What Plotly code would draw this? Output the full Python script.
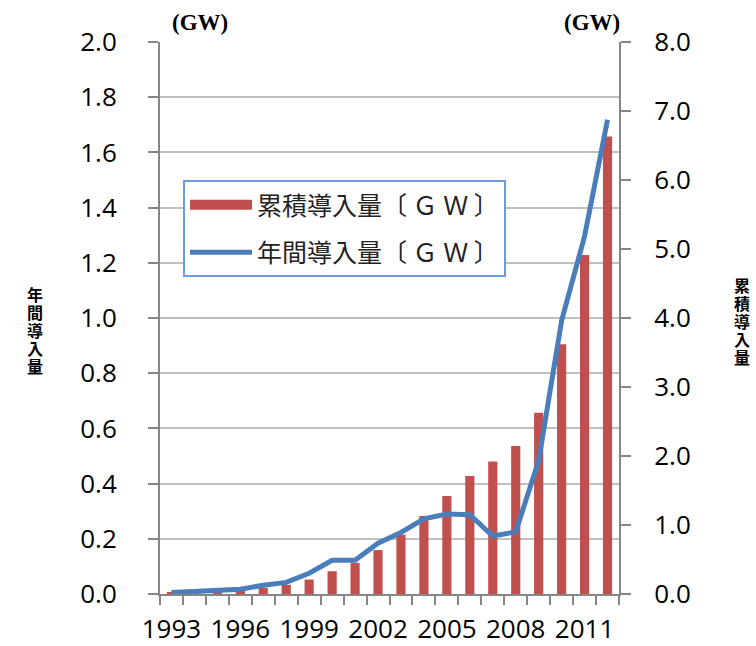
import plotly.graph_objects as go

years = list(range(1993, 2013))
cumulative_gw = [0.024, 0.031, 0.043, 0.060, 0.091, 0.133, 0.209, 0.330, 0.452, 0.637,
                 0.860, 1.132, 1.422, 1.709, 1.919, 2.144, 2.627, 3.618, 4.914, 6.632]
annual_gw = [0.005, 0.008, 0.011, 0.017, 0.032, 0.042, 0.075, 0.122, 0.122, 0.184,
             0.223, 0.272, 0.290, 0.287, 0.210, 0.225, 0.483, 0.991, 1.296, 1.718]
xtick_years = [1993, 1996, 1999, 2002, 2005, 2008, 2011]
bar_name = "累積導入量〔 Ｇ Ｗ 〕"
line_name = "年間導入量〔 Ｇ Ｗ 〕"
left_title = "年間導入量"
right_title = "累積導入量"

AX = "#868686"
GRID = "#c0c0c0"
BAR = "#c0504d"
LINE = "#4a7ebb"
TICKFONT = dict(family="Open Sans, DejaVu Sans, sans-serif", size=26, color="#000000")

fig = go.Figure()
fig.add_trace(go.Bar(
    x=years, y=cumulative_gw, name=bar_name, yaxis="y",
    marker=dict(color=BAR, line=dict(width=0)), width=0.4,
    showlegend=False,
))
# legend-only entry for the bar series (wide swatch like the reference)
fig.add_trace(go.Scatter(
    x=[None], y=[None], name=bar_name, mode="lines", yaxis="y",
    line=dict(color=BAR, width=14), legendgroup="a",
))
fig.add_trace(go.Scatter(
    x=years, y=annual_gw, name=line_name, yaxis="y2", mode="lines",
    line=dict(color=LINE, width=5), legendgroup="b",
))

pl, pr, pt, pb = 160, 619, 42, 594


def px2paper(px, py):
    return (px - pl) / (pr - pl), (pb - py) / (pb - pt)


annotations = []
for (px, py) in [(200, 23), (592, 23)]:
    x, y = px2paper(px, py)
    annotations.append(dict(text="<b>(GW)</b>", x=x, y=y, xref="paper", yref="paper",
                            xanchor="center", yanchor="middle", showarrow=False,
                            font=dict(family="Liberation Serif", size=23, color="#000")))
for title, cx, top in [(left_title, 35, 294), (right_title, 742, 285)]:
    for i, ch in enumerate(title):
        x, y = px2paper(cx, top + i * 18)
        annotations.append(dict(text="<b>" + ch + "</b>", x=x, y=y, xref="paper", yref="paper",
                                xanchor="center", yanchor="middle", showarrow=False,
                                font=dict(family="Noto Sans CJK JP", size=16, color="#000")))

lx, ly = px2paper(183, 180)

fig.update_layout(
    width=756, height=646,
    margin=dict(l=pl, r=756 - pr, t=pt, b=646 - pb, autoexpand=False),
    plot_bgcolor="white", paper_bgcolor="white",
    showlegend=True,
    legend=dict(
        x=lx, y=ly, xanchor="left", yanchor="top",
        bgcolor="white", bordercolor="#6b9bd8", borderwidth=2,
        font=dict(family="Noto Sans CJK JP", size=25, color="#222222"),
        itemwidth=62, tracegroupgap=12, traceorder="grouped",
    ),
    xaxis=dict(
        range=[1992.5, 2012.5], tickmode="array", tickvals=xtick_years,
        ticktext=[str(y) for y in xtick_years],
        ticks="", showgrid=False, zeroline=False,
        showline=True, linecolor=AX, linewidth=2,
        tickfont=TICKFONT, ticklabelstandoff=11,
        minor=dict(tick0=1992.5, dtick=1, ticks="outside", ticklen=9,
                   tickcolor=AX, tickwidth=2, showgrid=False),
    ),
    yaxis=dict(
        side="right", range=[0, 8], dtick=1, tickformat=".1f",
        showgrid=False, zeroline=False,
        showline=True, linecolor=AX, linewidth=2,
        ticks="outside", ticklen=10, tickcolor=AX, tickwidth=2,
        tickfont=TICKFONT, ticklabelstandoff=18,
    ),
    yaxis2=dict(
        overlaying="y", side="left", range=[0, 2], dtick=0.2, tickformat=".1f",
        showgrid=True, gridcolor=GRID, gridwidth=2, zeroline=False,
        showline=True, linecolor=AX, linewidth=2,
        ticks="outside", ticklen=10, tickcolor=AX, tickwidth=2,
        tickfont=TICKFONT, ticklabelstandoff=26,
    ),
    annotations=annotations,
)

fig.write_html("out.html", config={"displayModeBar": False},
               post_script="document.body.style.margin='0';")
